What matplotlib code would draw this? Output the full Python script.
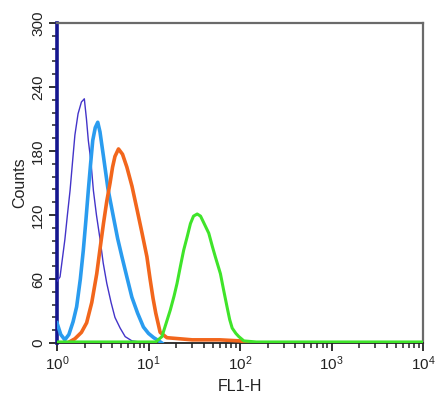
import matplotlib
matplotlib.use('Agg')
import matplotlib.pyplot as plt
from matplotlib.ticker import MultipleLocator, LogLocator, NullFormatter

plt.rcParams['font.family'] = ['Liberation Sans', 'DejaVu Sans']
plt.rcParams['mathtext.fontset'] = 'custom'
plt.rcParams['mathtext.rm'] = 'Liberation Sans'

# 各通道直方图（FL1-H, Counts）
purple_x = [1.0, 1.08, 1.15, 1.22, 1.3, 1.39, 1.48, 1.57, 1.7, 1.85, 1.99, 2.1, 2.2, 2.35,
            2.5, 2.7, 2.96, 3.2, 3.5, 3.9, 4.3, 4.9, 5.56, 6.6, 8.0]
purple_y = [58, 62, 80, 97, 120, 143, 170, 195, 215, 226, 229, 210, 190, 170,
            143, 120, 97, 75, 56, 38, 24, 14, 6, 2, 1]

blue_x = [1.0, 1.1, 1.22, 1.35, 1.5, 1.64, 1.8, 1.94, 2.07, 2.2, 2.33, 2.46, 2.62, 2.79,
          2.95, 3.22, 3.6, 4.14, 4.6, 5.12, 5.8, 6.58, 7.6, 8.8, 10.0, 11.4, 13.0, 14.0]
blue_y = [19, 8, 3, 8, 20, 34, 60, 87, 115, 143, 168, 190, 202, 207,
          198, 175, 145, 118, 98, 81, 62, 43, 28, 15, 9, 5, 2, 0]

orange_x = [1.3, 1.57, 1.85, 2.11, 2.4, 2.72, 2.95, 3.22, 3.5, 3.8, 4.05, 4.3, 4.7, 5.2,
            5.8, 6.6, 7.5, 8.5, 9.6, 10.4, 11.2, 12.0, 13.4, 15.9, 30, 60, 100, 120]
orange_y = [0, 4, 10, 19, 38, 65, 88, 112, 133, 150, 165, 175, 182, 177,
            165, 147, 125, 103, 81, 60, 42, 28, 10, 5, 3, 3, 2, 0]

green_x = [1.0, 12.0, 14.0, 15.5, 17.3, 19.0, 20.5, 22.3, 24.2, 26.5, 28.7, 31.0, 34.0, 37.0,
           40.0, 45.5, 50.0, 53.6, 61.0, 66.0, 72.0, 77.0, 82.0, 90.0, 97.0, 110.0, 150.0, 10000.0]
green_y = [1, 1, 6, 18, 31, 44, 56, 72, 87, 100, 112, 119, 121, 119,
           113, 103, 90, 81, 65, 50, 34, 22, 14, 9, 6, 2, 1, 1]

fig = plt.figure(figsize=(4.45, 4.05), dpi=100)
ax = fig.add_axes([0.128, 0.153, 0.823, 0.79])

ax.plot(purple_x, purple_y, color='#4334c9', lw=1.0, zorder=3)
ax.plot(blue_x, blue_y, color='#2a9cef', lw=2.6, zorder=4)
ax.plot(orange_x, orange_y, color='#f2661c', lw=2.6, zorder=5)
ax.plot(green_x, green_y, color='#3fe42a', lw=2.2, zorder=6)

ax.set_xscale('log')
ax.set_xlim(1, 10000)
ax.set_ylim(0, 300)

ax.yaxis.set_major_locator(MultipleLocator(60))
ax.yaxis.set_minor_locator(MultipleLocator(12))
ax.xaxis.set_major_locator(LogLocator(base=10))
ax.xaxis.set_minor_locator(LogLocator(base=10, subs=range(2, 10)))
ax.xaxis.set_minor_formatter(NullFormatter())

ax.tick_params(axis='both', which='major', direction='out', length=6, width=1.3,
               labelsize=11, colors='#222222', pad=2.5)
ax.tick_params(axis='both', which='minor', direction='out', length=3.5, width=1.1,
               colors='#222222')
for lab in ax.get_yticklabels():
    lab.set_rotation(90)
    lab.set_va('center')

ax.set_xlabel('FL1-H', fontsize=11.5, color='#222222', labelpad=4)
ax.set_ylabel('Counts', fontsize=11.5, color='#222222', labelpad=3)

ax.spines['left'].set_color('#15168f')
ax.spines['left'].set_linewidth(2.6)
ax.spines['bottom'].set_color('#222222')
ax.spines['bottom'].set_linewidth(1.3)
for s in ['top', 'right']:
    ax.spines[s].set_color('#6a6a6a')
    ax.spines[s].set_linewidth(1.6)

fig.savefig('out.png', dpi=100)
